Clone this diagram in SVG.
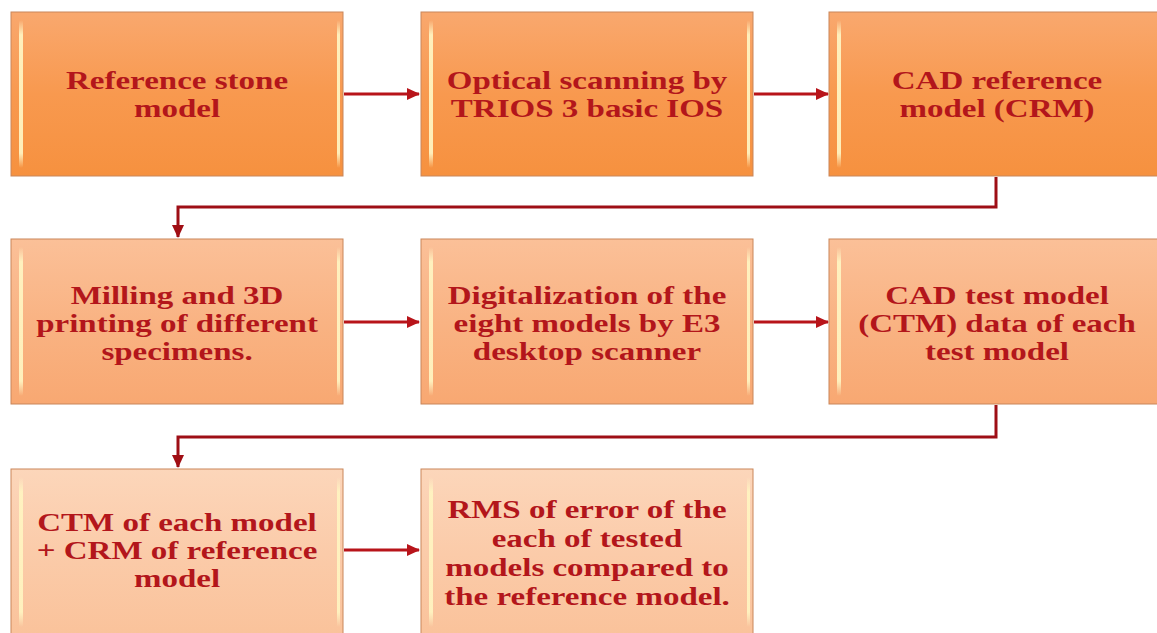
<svg xmlns="http://www.w3.org/2000/svg" width="1157" height="633" viewBox="0 0 1157 633">
<defs>
<linearGradient id="g1" x1="0" y1="0" x2="0" y2="1">
<stop offset="0" stop-color="#F9A86E"/>
<stop offset="0.5" stop-color="#F8994F"/>
<stop offset="1" stop-color="#F6913F"/>
</linearGradient>
<linearGradient id="g2" x1="0" y1="0" x2="0" y2="1">
<stop offset="0" stop-color="#FBC098"/>
<stop offset="0.5" stop-color="#F9B383"/>
<stop offset="1" stop-color="#F8A872"/>
</linearGradient>
<linearGradient id="g3" x1="0" y1="0" x2="0" y2="1">
<stop offset="0" stop-color="#FCD6BA"/>
<stop offset="0.5" stop-color="#FBCBA9"/>
<stop offset="1" stop-color="#FAC29A"/>
</linearGradient>
<linearGradient id="gl" x1="0" y1="0" x2="0" y2="1">
<stop offset="0" stop-color="#FFF6C8" stop-opacity="0"/>
<stop offset="0.1" stop-color="#FFF3C0" stop-opacity="0.95"/>
<stop offset="0.9" stop-color="#FFF3C0" stop-opacity="0.95"/>
<stop offset="1" stop-color="#FFF6C8" stop-opacity="0"/>
</linearGradient>
<marker id="ah" markerUnits="userSpaceOnUse" markerWidth="14" markerHeight="12" refX="12" refY="6" orient="auto">
<path d="M0,0 L13,6 L0,12 z" fill="#B8141A"/>
</marker>
<marker id="ahd" markerUnits="userSpaceOnUse" markerWidth="14" markerHeight="12" refX="12" refY="6" orient="auto">
<path d="M0,0 L13,6 L0,12 z" fill="#A00E14"/>
</marker>
</defs>
<style>
.box{stroke:#C9865A;stroke-width:1}
.r1{fill:url(#g1)}
.r2{fill:url(#g2)}
.r3{fill:url(#g3)}
.gl{fill:url(#gl)}
.t{font-family:"Liberation Serif","Times New Roman",serif;font-weight:bold;font-size:26px;fill:#B3161B;text-anchor:middle}
.c{fill:none;stroke:#B8141A;stroke-width:3}
.cd{fill:none;stroke:#9E0E16;stroke-width:3}
</style>
<rect width="1157" height="633" fill="#FFFFFF"/>

<g id="n1">
<rect class="box r1" x="11" y="12" width="332" height="164"/>
<rect class="gl" x="19" y="20" width="4" height="148" rx="2"/>
<rect class="gl" x="337" y="20" width="3" height="148" rx="1.5"/>
<text class="t" transform="translate(177 0) scale(1.27 1)"><tspan x="0" y="89">Reference stone</tspan><tspan x="0" y="117">model</tspan></text>
</g>
<g id="n2">
<rect class="box r1" x="421" y="12" width="332" height="164"/>
<rect class="gl" x="429" y="20" width="4" height="148" rx="2"/>
<rect class="gl" x="747" y="20" width="3" height="148" rx="1.5"/>
<text class="t" transform="translate(587 0) scale(1.27 1)"><tspan x="0" y="89">Optical scanning by</tspan><tspan x="0" y="117">TRIOS 3 basic IOS</tspan></text>
</g>
<g id="n3">
<rect class="box r1" x="829" y="12" width="336" height="164"/>
<rect class="gl" x="837" y="20" width="4" height="148" rx="2"/>
<text class="t" transform="translate(997 0) scale(1.27 1)"><tspan x="0" y="89">CAD reference</tspan><tspan x="0" y="117">model (CRM)</tspan></text>
</g>

<g id="n4">
<rect class="box r2" x="11" y="239" width="332" height="165"/>
<rect class="gl" x="19" y="247" width="4" height="149" rx="2"/>
<rect class="gl" x="337" y="247" width="3" height="149" rx="1.5"/>
<text class="t" transform="translate(177 0) scale(1.27 1)"><tspan x="0" y="304">Milling and 3D</tspan><tspan x="0" y="332">printing of different</tspan><tspan x="0" y="360">specimens.</tspan></text>
</g>
<g id="n5">
<rect class="box r2" x="421" y="239" width="332" height="165"/>
<rect class="gl" x="429" y="247" width="4" height="149" rx="2"/>
<rect class="gl" x="747" y="247" width="3" height="149" rx="1.5"/>
<text class="t" transform="translate(587 0) scale(1.27 1)"><tspan x="0" y="304">Digitalization of the</tspan><tspan x="0" y="332">eight models by E3</tspan><tspan x="0" y="360">desktop scanner</tspan></text>
</g>
<g id="n6">
<rect class="box r2" x="829" y="239" width="336" height="165"/>
<rect class="gl" x="837" y="247" width="4" height="149" rx="2"/>
<text class="t" transform="translate(997 0) scale(1.27 1)"><tspan x="0" y="304">CAD test model</tspan><tspan x="0" y="332">(CTM) data of each</tspan><tspan x="0" y="360">test model</tspan></text>
</g>

<g id="n7">
<rect class="box r3" x="11" y="469" width="332" height="170"/>
<rect class="gl" x="19" y="477" width="4" height="150" rx="2"/>
<rect class="gl" x="337" y="477" width="3" height="150" rx="1.5"/>
<text class="t" transform="translate(177 0) scale(1.27 1)"><tspan x="0" y="531">CTM of each model</tspan><tspan x="0" y="559">+ CRM of reference</tspan><tspan x="0" y="587">model</tspan></text>
</g>
<g id="n8">
<rect class="box r3" x="421" y="469" width="332" height="170"/>
<rect class="gl" x="429" y="477" width="4" height="150" rx="2"/>
<rect class="gl" x="747" y="477" width="3" height="150" rx="1.5"/>
<text class="t" transform="translate(587 0) scale(1.27 1)"><tspan x="0" y="518">RMS of error of the</tspan><tspan x="0" y="547">each of tested</tspan><tspan x="0" y="576">models compared to</tspan><tspan x="0" y="605">the reference model.</tspan></text>
</g>

<g id="connectors">
<line class="c" x1="344" y1="94" x2="419" y2="94" marker-end="url(#ah)"/>
<line class="c" x1="754" y1="94" x2="828" y2="94" marker-end="url(#ah)"/>
<polyline class="cd" points="996,177 996,207 178,207 178,237" marker-end="url(#ahd)"/>
<line class="c" x1="344" y1="322" x2="419" y2="322" marker-end="url(#ah)"/>
<line class="c" x1="754" y1="322" x2="828" y2="322" marker-end="url(#ah)"/>
<polyline class="cd" points="996,405 996,437 178,437 178,467" marker-end="url(#ahd)"/>
<line class="c" x1="344" y1="550" x2="419" y2="550" marker-end="url(#ah)"/>
</g>
</svg>
